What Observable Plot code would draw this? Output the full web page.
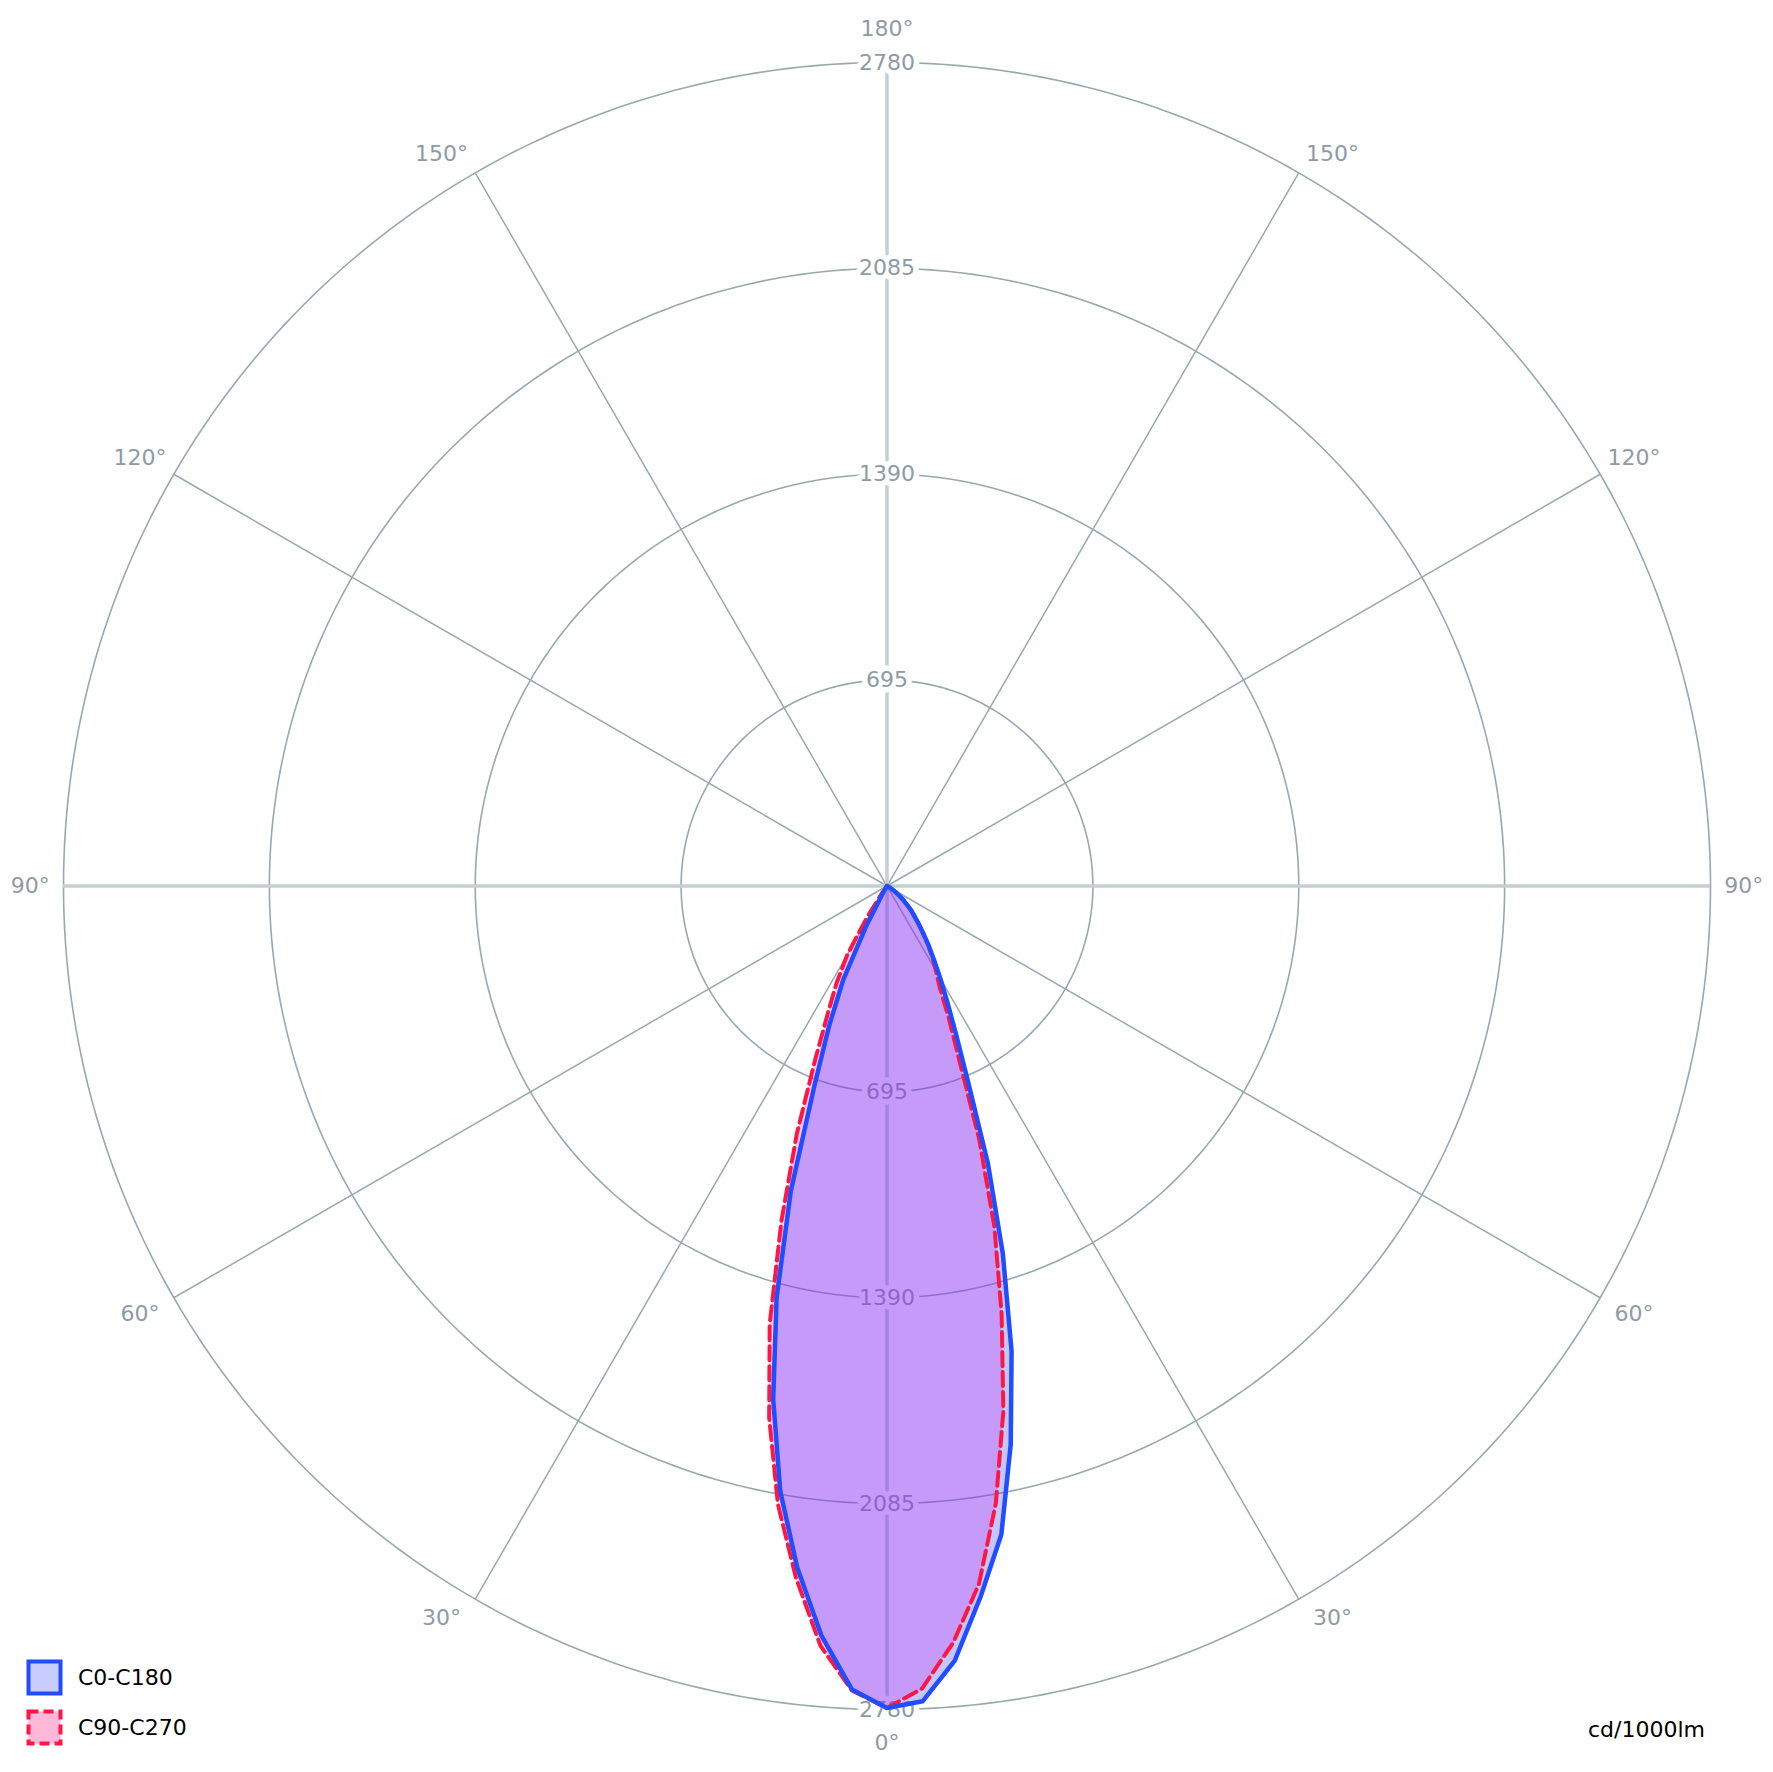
<!DOCTYPE html>
<html>
<head>
<meta charset="utf-8">
<script src="https://cdn.jsdelivr.net/npm/d3@7"></script>
<script src="https://cdn.jsdelivr.net/npm/@observablehq/plot@0.6"></script>
<style>
  html, body { margin: 0; padding: 0; background: #fff; }
  #wrap { position: relative; width: 1773px; height: 1772px; font-family: "DejaVu Sans", Verdana, sans-serif; }
  #wrap svg { display: block; }
  .leg { position: absolute; left: 26px; height: 37px; display: flex; align-items: center; font-size: 22px; color: #000; }
  .leg svg { margin-right: 15px; }
  .unit { position: absolute; left: 1588px; top: 1716px; font-size: 22px; line-height: 28px; color: #000; }
</style>
</head>
<body>
<div id="wrap"></div>
<script>
// ---- data (cd/1000lm) ----
const gamma = [0, 2.5, 5, 7.5, 10, 12.5, 15, 17.5, 20, 22.5, 25, 27.5, 30, 32.5, 35, 37.5, 40, 45, 50, 55, 60, 65, 70, 75, 80, 85, 90];
const C0   = [2775, 2755, 2625, 2420, 2223, 1930, 1625, 1300, 995, 714, 550, 440, 360, 295, 245, 200, 165, 115, 70, 35, 15, 5, 0, 0, 0, 0, 0];
const C180 = [2775, 2715, 2540, 2321, 2075, 1775, 1440, 1080, 715, 510, 350, 150, 30, 5, 0, 0, 0, 0, 0, 0, 0, 0, 0, 0, 0, 0, 0];
const C90  = [2775, 2712, 2564, 2377, 2116, 1815, 1495, 1205, 910, 640, 495, 385, 330, 285, 240, 200, 165, 112, 68, 32, 12, 4, 0, 0, 0, 0, 0];
const C270 = [2775, 2718, 2575, 2355, 2120, 1838, 1530, 1185, 890, 632, 470, 368, 268, 125, 30, 5, 0, 0, 0, 0, 0, 0, 0, 0, 0, 0, 0];
const rings = [695, 1390, 2085, 2780];
const spokeAngles = [30, 60, 120, 150];
const angleLabels = [0, 30, 60, 90, 120, 150, 180];
const seriesNames = ["C0-C180", "C90-C270"];
const unitLabel = "cd/1000lm";

// ---- layout ----
const W = 1773, H = 1772, CX = 886.5, CY = 885.5, R = 823.5;
const MAX = d3.max(rings);
const LABEL_R = MAX * 1.0405;
const FONT = "DejaVu Sans, Verdana, sans-serif";
const rad = a => a * Math.PI / 180;

function outline(left, right) {
  const pts = [];
  for (let i = gamma.length - 1; i >= 0; i--) pts.push({g: gamma[i], v: left[i], s: -1});
  for (let i = 1; i < gamma.length; i++) pts.push({g: gamma[i], v: right[i], s: 1});
  return pts;
}
const px = d => d.s * d.v * Math.sin(rad(d.g));
const py = d => -d.v * Math.cos(rad(d.g));

const blue = outline(C180, C0);
const red = outline(C270, C90);

const ringPts = rings.flatMap(r => d3.range(0, 361, 1).map(a => ({r, a})));
const spokes = spokeAngles.flatMap(a => [{a, s: 1}, {a, s: -1}]);
const ringLab = rings.flatMap(r => [{r, s: 1}, {r, s: -1}]);
const angLab = angleLabels.flatMap(a => (a === 0 || a === 180) ? [{a, s: 1}] : [{a, s: 1}, {a, s: -1}]);

const labDx = d => (d.a === 30 || d.a === 150) ? d.s * 17 : (d.a === 60 || d.a === 120) ? d.s * 5 : 0;
const labDy = d => d.a === 150 ? 10 : d.a === 30 ? -10 : 0;

const gridTxt = "#8d9ba6";
const gridLine = "#97a9ad";
const textMarks = [];
const groups = d3.groups(angLab, d => labDx(d) + "_" + labDy(d));
for (const [, arr] of groups) {
  textMarks.push(Plot.text(arr, {
    x: d => d.s * LABEL_R * Math.sin(rad(d.a)),
    y: d => -LABEL_R * Math.cos(rad(d.a)),
    text: d => `${d.a}°`,
    dx: labDx(arr[0]), dy: labDy(arr[0]),
    fill: gridTxt, fontSize: 22, fontFamily: FONT
  }));
}

const plot = Plot.plot({
  width: W, height: H,
  x: {domain: [-MAX, MAX], range: [CX - R, CX + R], axis: null},
  y: {domain: [-MAX, MAX], range: [CY + R, CY - R], axis: null},
  style: {fontFamily: FONT, background: "white", overflow: "visible"},
  marks: [
    Plot.line(ringPts, {x: d => d.r * Math.sin(rad(d.a)), y: d => d.r * Math.cos(rad(d.a)), z: "r", stroke: gridLine, strokeWidth: 1.6}),
    Plot.link(spokes, {x1: 0, y1: 0, x2: d => d.s * MAX * Math.sin(rad(d.a)), y2: d => -MAX * Math.cos(rad(d.a)), stroke: gridLine, strokeWidth: 1.5}),
    Plot.ruleX([0], {y1: -MAX, y2: MAX, stroke: "#c4d0d0", strokeWidth: 3.5}),
    Plot.ruleY([0], {x1: -MAX, x2: MAX, stroke: "#c4d0d0", strokeWidth: 3.5}),
    Plot.text(ringLab, {x: 0, y: d => d.s * d.r, text: d => String(d.r), fill: gridTxt, stroke: "white", strokeWidth: 11, fontSize: 22, fontFamily: FONT}),
    ...textMarks,
    Plot.line(red, {x: px, y: py, fill: "rgb(255,60,230)", fillOpacity: 0.3, stroke: "none"}),
    Plot.line(blue, {x: px, y: py, fill: "rgb(40,40,255)", fillOpacity: 0.265, stroke: "none"}),
    Plot.line(red, {x: px, y: py, stroke: "#ff1744", strokeWidth: 4, strokeDasharray: "14,6"}),
    Plot.line(blue, {x: px, y: py, stroke: "#1f4dff", strokeWidth: 4.5})
  ]
});

const wrap = document.getElementById("wrap");
wrap.appendChild(plot);

// legend (HTML overlay, bottom-left)
const legItems = [
  {name: seriesNames[0], stroke: "#1f4dff", fill: "#c8ccff", dash: null, top: 1659},
  {name: seriesNames[1], stroke: "#ff1744", fill: "#ffb8d8", dash: "10,5", top: 1709}
];
for (const it of legItems) {
  const div = document.createElement("div");
  div.className = "leg";
  div.style.top = it.top + "px";
  div.innerHTML = `<svg width="37" height="37"><rect x="2.5" y="2.5" width="32" height="32" fill="${it.fill}" stroke="${it.stroke}" stroke-width="4" ${it.dash ? `stroke-dasharray="${it.dash}"` : ""}/></svg><span>${it.name}</span>`;
  wrap.appendChild(div);
}
const unit = document.createElement("div");
unit.className = "unit";
unit.textContent = unitLabel;
wrap.appendChild(unit);
</script>
</body>
</html>
